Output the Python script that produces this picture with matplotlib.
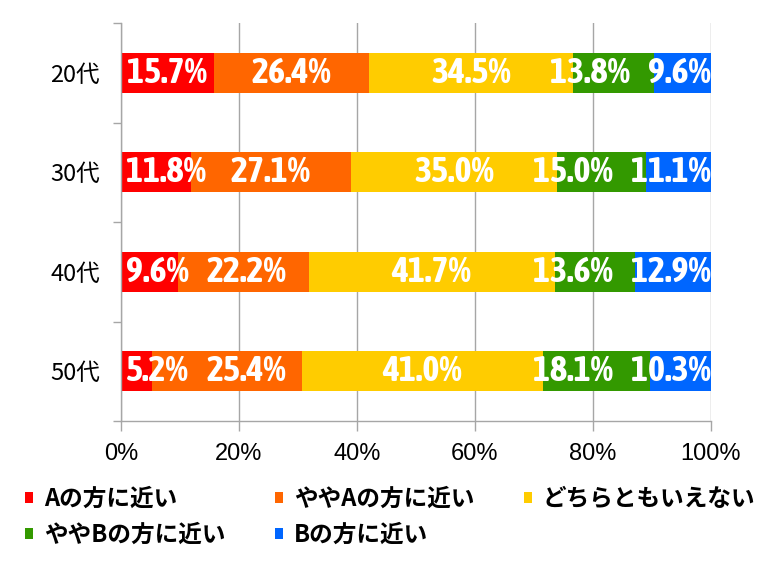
import matplotlib
matplotlib.use("Agg")
import matplotlib.pyplot as plt
from matplotlib import font_manager as fm
from matplotlib.patches import Patch
import numpy as np

categories = ["20代", "30代", "40代", "50代"]
series_names = ["Aの方に近い", "ややAの方に近い", "どちらともいえない", "ややBの方に近い", "Bの方に近い"]
values_A = [15.7, 11.8, 9.6, 5.2]
values_slightA = [26.4, 27.1, 22.2, 25.4]
values_neutral = [34.5, 35.0, 41.7, 41.0]
values_slightB = [13.8, 15.0, 13.6, 18.1]
values_B = [9.6, 11.1, 12.9, 10.3]
colors = ["#FF0000", "#FF6600", "#FFCC00", "#339900", "#0066FF"]
xtick_values = [0, 20, 40, 60, 80, 100]
xtick_labels = ["0%", "20%", "40%", "60%", "80%", "100%"]

series = [values_A, values_slightA, values_neutral, values_slightB, values_B]

names = {f.name for f in fm.fontManager.ttflist}
narrow = [n for n in ["Liberation Sans Narrow", "Asap Condensed", "Roboto Condensed",
                      "Barlow Semi Condensed", "Liberation Sans"] if n in names][0]
jp = ["Noto Sans CJK JP", "DejaVu Sans"]

fig = plt.figure(figsize=(7.68, 5.69), dpi=100)
ax = fig.add_axes([121/768, 1-421/569, (711-121)/768, (421-23)/569])

y = np.arange(len(categories))
left = np.zeros(len(categories))
segs = []
for vals, col in zip(series, colors):
    vals = np.array(vals)
    ax.barh(y, vals, left=left, height=0.4, color=col, zorder=2)
    segs.append((left.copy(), vals))
    left = left + vals

ax.set_xlim(0, 100)
ax.set_ylim(3.5, -0.5)
ax.set_xticks(xtick_values)
ax.set_xticklabels(xtick_labels, fontsize=17, family="Liberation Sans")
ax.set_yticks(y)
ax.set_yticklabels(categories, fontsize=17, family=jp)
ax.set_yticks(np.arange(-0.5, 4.0, 1.0), minor=True)
ax.tick_params(axis="y", which="major", length=0, pad=15)
ax.tick_params(axis="y", which="minor", length=6, color="#A6A6A6", width=1)
ax.tick_params(axis="x", which="major", length=7, color="#A6A6A6", width=1, pad=9)
ax.grid(axis="x", color="#A6A6A6", linewidth=1, zorder=0)
ax.set_axisbelow(True)
for s in ["top", "right"]:
    ax.spines[s].set_visible(False)
for s in ["left", "bottom"]:
    ax.spines[s].set_color("#A6A6A6")
    ax.spines[s].set_linewidth(1)

# value labels, centred in each segment, then kept inside the axes and apart
texts = []
for i in range(len(categories)):
    row = []
    for (lft, vals) in segs:
        t = ax.text(lft[i] + vals[i]/2, y[i], f"{vals[i]:.1f}%", color="white",
                    fontsize=26, fontweight="bold", family=narrow,
                    ha="center", va="center", zorder=3)
        row.append(t)
    texts.append(row)

fig.canvas.draw()
r = fig.canvas.get_renderer()
px_per_unit = ax.transData.transform((1, 0))[0] - ax.transData.transform((0, 0))[0]
gap = 18 / px_per_unit
lpad = 5 / px_per_unit
for row in texts:
    widths = [t.get_window_extent(r).width / px_per_unit for t in row]
    cx = [t.get_position()[0] for t in row]
    orig = list(cx)
    for k in range(len(row)):
        cx[k] = max(cx[k], lpad + widths[k]/2)
        cx[k] = min(cx[k], 100 - widths[k]/2)
    # first label pushed right by the left edge -> push the second one along
    if cx[0] > orig[0]:
        minc = cx[0] + widths[0]/2 + gap + widths[1]/2
        cx[1] = max(cx[1], minc)
    # push left from the right side
    for k in range(len(row)-2, -1, -1):
        maxc = cx[k+1] - widths[k+1]/2 - gap - widths[k]/2
        if cx[k] > maxc:
            cx[k] = maxc
    for t, c in zip(row, cx):
        t.set_x(c)

handles = [Patch(facecolor=c, edgecolor="none") for c in colors]
order = [0, 3, 1, 4, 2]
leg = fig.legend([handles[k] for k in order], [series_names[k] for k in order],
                 ncol=3, loc="upper left", bbox_to_anchor=(25/768, 1-487/569),
                 frameon=False, borderpad=0, borderaxespad=0,
                 handlelength=0.35, handleheight=0.35, handletextpad=0.45,
                 columnspacing=2.1, labelspacing=0.5,
                 prop={"family": jp, "weight": "bold", "size": 17})

fig.savefig("out.png", dpi=100)
